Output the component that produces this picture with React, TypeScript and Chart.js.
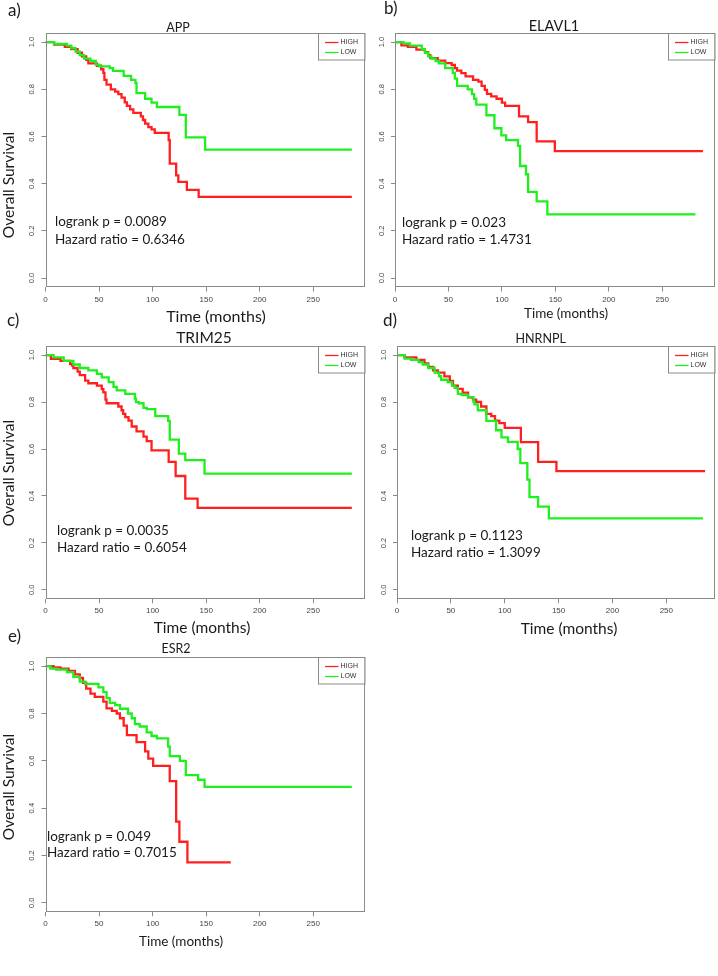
import React, { useEffect, useRef } from "react";
import { Chart, registerables } from "chart.js";
Chart.register(...registerables);

// ---------- data (months, survival) ----------
const appHighT = [0, 8, 18, 24, 30, 34, 38, 40, 48, 52, 54, 55, 57, 61, 65, 68, 71, 74, 76, 79, 82, 89, 91, 93, 96, 99, 102, 115, 116, 122, 124, 132, 143, 286];
const appHighS = [1.0, 0.99, 0.98, 0.97, 0.955, 0.94, 0.925, 0.91, 0.9, 0.885, 0.87, 0.84, 0.82, 0.8, 0.79, 0.78, 0.765, 0.745, 0.73, 0.715, 0.7, 0.685, 0.67, 0.655, 0.64, 0.63, 0.615, 0.585, 0.485, 0.435, 0.408, 0.374, 0.344, 0.344];
const appLowT = [0, 8, 20, 24, 28, 32, 36, 42, 47, 50, 60, 63, 73, 80, 84, 85, 93, 99, 104, 125, 131, 149, 286];
const appLowS = [1.0, 0.992, 0.985, 0.975, 0.96, 0.945, 0.93, 0.92, 0.905, 0.897, 0.89, 0.878, 0.857, 0.84, 0.826, 0.784, 0.76, 0.744, 0.725, 0.692, 0.596, 0.544, 0.544];

const elavHighT = [0, 6, 12, 20, 28, 31, 33, 40, 47, 53, 56, 58, 62, 66, 73, 78, 81, 84, 86, 90, 95, 100, 103, 116, 124.5, 132.5, 149.5, 288];
const elavHighS = [1.0, 0.986, 0.98, 0.968, 0.958, 0.945, 0.932, 0.922, 0.911, 0.903, 0.89, 0.879, 0.869, 0.855, 0.84, 0.833, 0.815, 0.798, 0.781, 0.77, 0.76, 0.744, 0.73, 0.685, 0.661, 0.579, 0.538, 0.538];
const elavLowT = [0, 8, 14, 25, 28, 31, 34, 38, 41, 47, 54, 56, 58, 68, 72, 74, 76, 85.5, 93, 99.5, 104, 115, 117, 122.5, 124.5, 132.5, 142.5, 281];
const elavLowS = [1.0, 0.995, 0.985, 0.97, 0.955, 0.94, 0.93, 0.92, 0.91, 0.89, 0.87, 0.845, 0.815, 0.8, 0.78, 0.76, 0.735, 0.69, 0.635, 0.605, 0.585, 0.56, 0.475, 0.44, 0.365, 0.325, 0.27, 0.27];

const trimHighT = [0, 5, 14, 23, 25, 26, 30, 32, 37, 40, 48, 52.5, 54, 56, 57, 68, 71, 72.5, 74.5, 77.5, 80.5, 85, 91.5, 94.5, 99, 115, 121.5, 130.5, 142, 286];
const trimHighS = [1.0, 0.984, 0.975, 0.962, 0.955, 0.945, 0.93, 0.915, 0.891, 0.88, 0.87, 0.855, 0.841, 0.81, 0.795, 0.781, 0.765, 0.75, 0.736, 0.721, 0.696, 0.675, 0.653, 0.634, 0.594, 0.545, 0.485, 0.389, 0.349, 0.349];
const trimLowT = [0, 7.5, 17, 26, 32, 40, 48, 52.5, 59, 63.5, 66.5, 74.5, 83.5, 84.5, 87, 91.5, 94.5, 102.5, 114.5, 116, 124.5, 130.5, 148.5, 286];
const trimLowS = [1.0, 0.99, 0.975, 0.96, 0.945, 0.935, 0.92, 0.905, 0.885, 0.865, 0.85, 0.835, 0.815, 0.8, 0.795, 0.775, 0.77, 0.74, 0.72, 0.64, 0.58, 0.553, 0.495, 0.495];

const hnrHighT = [0, 7, 18, 25.5, 29, 33.5, 38, 44, 49, 52, 56.5, 61, 66, 70.5, 73.5, 78, 83, 87.5, 91, 95, 100, 115, 131, 148, 286];
const hnrHighS = [1.0, 0.99, 0.98, 0.965, 0.95, 0.935, 0.925, 0.909, 0.89, 0.87, 0.856, 0.84, 0.82, 0.81, 0.801, 0.781, 0.75, 0.74, 0.721, 0.71, 0.69, 0.629, 0.545, 0.506, 0.506];
const hnrLowT = [0, 7, 13, 20, 24, 29, 35, 39, 41, 47, 51, 53.5, 56.5, 60, 66, 71, 72, 75, 83, 92, 97, 103, 112, 114.5, 121, 123, 131, 141, 284];
const hnrLowS = [1.0, 0.985, 0.98, 0.97, 0.96, 0.945, 0.925, 0.91, 0.895, 0.885, 0.87, 0.86, 0.835, 0.83, 0.82, 0.8, 0.79, 0.765, 0.72, 0.68, 0.65, 0.63, 0.6, 0.54, 0.47, 0.395, 0.355, 0.305, 0.305];

const esrHighT = [0, 7.5, 14, 21.5, 27.5, 32, 35, 38, 42, 46, 54, 57, 62, 66.5, 69.5, 73, 76, 85, 93, 96, 100.5, 116, 122, 125, 132.5, 173];
const esrHighS = [1.0, 0.995, 0.99, 0.98, 0.965, 0.95, 0.93, 0.905, 0.884, 0.87, 0.85, 0.822, 0.811, 0.8, 0.78, 0.749, 0.709, 0.679, 0.64, 0.609, 0.579, 0.514, 0.343, 0.258, 0.171, 0.171];
const esrLowT = [0, 4.5, 10, 20, 26, 32, 37, 49.5, 54, 57, 60, 65, 69.5, 77, 80.5, 83.5, 88, 94.5, 99, 104, 114.5, 116, 125.5, 131, 142.5, 148.5, 286];
const esrLowS = [1.0, 0.99, 0.985, 0.975, 0.955, 0.935, 0.925, 0.91, 0.89, 0.865, 0.845, 0.835, 0.82, 0.8, 0.78, 0.755, 0.745, 0.72, 0.705, 0.695, 0.66, 0.62, 0.6, 0.54, 0.52, 0.49, 0.49];

const xTicks = [0, 50, 100, 150, 200, 250];
const yTicks = [0, 0.2, 0.4, 0.6, 0.8, 1.0];
const seriesLabels = ["HIGH", "LOW"];
const panelTitles = ["APP", "ELAVL1", "TRIM25", "HNRNPL", "ESR2"];
const panelLetters = ["a)", "b)", "c)", "d)", "e)"];
const logrankP = ["0.0089", "0.023", "0.0035", "0.1123", "0.049"];
const hazardRatios = ["0.6346", "1.4731", "0.6054", "1.3099", "0.7015"];
const xAxisTitle = "Time (months)";
const yAxisTitle = "Overall Survival";

const series = [
  [appHighT, appHighS, appLowT, appLowS],
  [elavHighT, elavHighS, elavLowT, elavLowS],
  [trimHighT, trimHighS, trimLowT, trimLowS],
  [hnrHighT, hnrHighS, hnrLowT, hnrLowS],
  [esrHighT, esrHighS, esrLowT, esrLowS],
];

// ---------- layout / style ----------
const W = 718;
const H = 976;
const Y_AXIS_W = 30;
const X_AXIS_H = 24;
const RED = "#ff1f1f";
const GREEN = "#1fef1f";
const AXIS = "#8a8a8a";
const TXT = "#1a1a1a";
const SANS = "Lato, 'Open Sans', sans-serif";
const RSANS = "'Liberation Sans', Arial, sans-serif";

type Pt = { x: number; y: number; size: number };
type Deco = {
  box: { l: number; t: number; r: number; b: number };
  xMax: number;
  letter: Pt;
  title: Pt;
  xTitle: Pt;
  yTitle: Pt | null;
  note: { x: number; y1: number; y2: number; size: number };
};

const decos: Deco[] = [
  {
    box: { l: 45.5, t: 32.7, r: 365, b: 287.5 }, xMax: 298.3,
    letter: { x: 8, y: 11, size: 17 }, title: { x: 178, y: 28, size: 12.5 },
    xTitle: { x: 216, y: 317, size: 16 }, yTitle: { x: 9, y: 185, size: 15.5 },
    note: { x: 55, y1: 222, y2: 239.5, size: 13.5 },
  },
  {
    box: { l: 395, t: 32.7, r: 715, b: 287.5 }, xMax: 299.3,
    letter: { x: 384, y: 9, size: 17 }, title: { x: 554, y: 26, size: 14.5 },
    xTitle: { x: 566, y: 314, size: 13.5 }, yTitle: null,
    note: { x: 402, y1: 223, y2: 240, size: 13.5 },
  },
  {
    box: { l: 45.5, t: 345.7, r: 365, b: 599.3 }, xMax: 298.3,
    letter: { x: 7, y: 321, size: 17 }, title: { x: 204, y: 338, size: 15.5 },
    xTitle: { x: 202, y: 628.3, size: 15.5 }, yTitle: { x: 9, y: 473, size: 15.5 },
    note: { x: 57, y1: 530.7, y2: 548, size: 13.5 },
  },
  {
    box: { l: 397, t: 345.7, r: 715, b: 599.3 }, xMax: 295.2,
    letter: { x: 383, y: 321, size: 17 }, title: { x: 540.7, y: 339, size: 12.5 },
    xTitle: { x: 569, y: 629.3, size: 15.5 }, yTitle: null,
    note: { x: 411, y1: 536, y2: 553, size: 13.5 },
  },
  {
    box: { l: 45.5, t: 656.7, r: 365, b: 912.3 }, xMax: 298.3,
    letter: { x: 8, y: 637, size: 17 }, title: { x: 176, y: 649, size: 12.5 },
    xTitle: { x: 181, y: 942, size: 13.5 }, yTitle: { x: 9, y: 787, size: 15.5 },
    note: { x: 47, y1: 836.7, y2: 853, size: 13.5 },
  },
];

const toPoints = (t: number[], s: number[]) => t.map((x, i) => ({ x, y: s[i] }));

const decoPlugin = {
  id: "kmDeco",
  afterDraw(chart: any, _args: any, opts: any) {
    const d: Deco = opts.deco;
    const idx: number = opts.idx;
    const ctx: CanvasRenderingContext2D = chart.ctx;
    const a = chart.chartArea;
    ctx.save();
    // plot box
    ctx.strokeStyle = AXIS;
    ctx.lineWidth = 1;
    const L = Math.round(a.left) + 0.5, T = Math.round(a.top) + 0.5;
    const R = Math.round(a.right) - 0.5, B = Math.round(a.bottom) - 0.5;
    ctx.strokeRect(L, T, R - L, B - T);

    // legend (top right, inside plot)
    const lw = 46.5, lh = 26.5;
    const lx = R - lw;
    ctx.fillStyle = "#fff";
    ctx.fillRect(lx, T, lw, lh);
    ctx.strokeStyle = "#8a8a8a";
    ctx.strokeRect(Math.round(lx) + 0.5, T, lw, lh);
    chart.data.datasets.forEach((ds: any, i: number) => {
      const y = T + 9 + i * 10;
      ctx.strokeStyle = ds.borderColor;
      ctx.lineWidth = 1.3;
      ctx.beginPath();
      ctx.moveTo(lx + 7, y);
      ctx.lineTo(lx + 20.5, y);
      ctx.stroke();
      ctx.fillStyle = "#333";
      ctx.font = `7px ${RSANS}`;
      ctx.textAlign = "left";
      ctx.textBaseline = "middle";
      ctx.fillText(ds.label, lx + 22.5, y);
    });

    ctx.fillStyle = TXT;
    ctx.textBaseline = "middle";
    // panel letter
    ctx.font = `${d.letter.size}px ${SANS}`;
    ctx.textAlign = "left";
    ctx.fillText(panelLetters[idx], d.letter.x, d.letter.y);
    // title
    ctx.font = `${d.title.size}px ${SANS}`;
    ctx.textAlign = "center";
    ctx.fillText(panelTitles[idx], d.title.x, d.title.y);
    // x axis title
    ctx.font = `${d.xTitle.size}px ${SANS}`;
    ctx.fillText(xAxisTitle, d.xTitle.x, d.xTitle.y);
    // y axis title
    if (d.yTitle) {
      ctx.save();
      ctx.translate(d.yTitle.x, d.yTitle.y);
      ctx.rotate(-Math.PI / 2);
      ctx.font = `${d.yTitle.size}px ${SANS}`;
      ctx.textAlign = "center";
      ctx.fillText(yAxisTitle, 0, 0);
      ctx.restore();
    }
    // logrank / hazard ratio
    ctx.font = `${d.note.size}px ${SANS}`;
    ctx.textAlign = "left";
    ctx.fillText(`logrank p = ${logrankP[idx]}`, d.note.x, d.note.y1);
    ctx.fillText(`Hazard ratio = ${hazardRatios[idx]}`, d.note.x, d.note.y2);
    ctx.restore();
  },
};

function makeConfig(idx: number): any {
  const d = decos[idx];
  const [hT, hS, lT, lS] = series[idx];
  return {
    type: "line",
    data: {
      datasets: [
        {
          label: seriesLabels[0], data: toPoints(hT, hS), borderColor: RED, backgroundColor: RED,
          borderWidth: 2.3, stepped: "before", pointRadius: 0, fill: false, order: 2,
        },
        {
          label: seriesLabels[1], data: toPoints(lT, lS), borderColor: GREEN, backgroundColor: GREEN,
          borderWidth: 2.3, stepped: "before", pointRadius: 0, fill: false, order: 1,
        },
      ],
    },
    options: {
      animation: false,
      responsive: false,
      events: [],
      layout: {
        padding: {
          left: d.box.l - Y_AXIS_W,
          top: d.box.t,
          right: W - d.box.r,
          bottom: H - d.box.b - X_AXIS_H,
        },
      },
      plugins: {
        legend: { display: false },
        title: { display: false },
        tooltip: { enabled: false },
        kmDeco: { deco: d, idx },
      },
      scales: {
        x: {
          type: "linear",
          min: 0,
          max: d.xMax,
          afterBuildTicks: (s: any) => { s.ticks = xTicks.map((v) => ({ value: v })); },
          afterFit: (s: any) => { s.height = X_AXIS_H; },
          border: { display: false },
          grid: { drawOnChartArea: false, drawTicks: true, tickLength: 4, color: AXIS, lineWidth: 1 },
          ticks: {
            autoSkip: false, maxRotation: 0, minRotation: 0, padding: 3,
            color: "#444", font: { family: RSANS, size: 8 },
            callback: (v: any) => String(v),
          },
        },
        y: {
          type: "linear",
          min: -0.04,
          max: 1.04,
          afterBuildTicks: (s: any) => { s.ticks = yTicks.map((v) => ({ value: v })); },
          afterFit: (s: any) => { s.width = Y_AXIS_W; },
          border: { display: false },
          grid: { drawOnChartArea: false, drawTicks: true, tickLength: 4, color: AXIS, lineWidth: 1 },
          ticks: {
            autoSkip: false, minRotation: 90, maxRotation: 90, crossAlign: "center", padding: 4,
            color: "#444", font: { family: RSANS, size: 7.5 },
            callback: (v: any) => Number(v).toFixed(1),
          },
        },
      },
    },
    plugins: [decoPlugin],
  };
}

function Panel({ idx }: { idx: number }) {
  const ref = useRef<HTMLCanvasElement>(null);
  useEffect(() => {
    if (!ref.current) return;
    const chart = new Chart(ref.current, makeConfig(idx));
    return () => chart.destroy();
  }, [idx]);
  return (
    <canvas
      ref={ref}
      width={W}
      height={H}
      style={{ position: "absolute", left: 0, top: 0, width: W, height: H }}
    />
  );
}

export default function App() {
  return (
    <div style={{ position: "absolute", left: 0, top: 0, width: W, height: H, background: "#fff", overflow: "hidden" }}>
      {decos.map((_, i) => (
        <Panel key={i} idx={i} />
      ))}
    </div>
  );
}
